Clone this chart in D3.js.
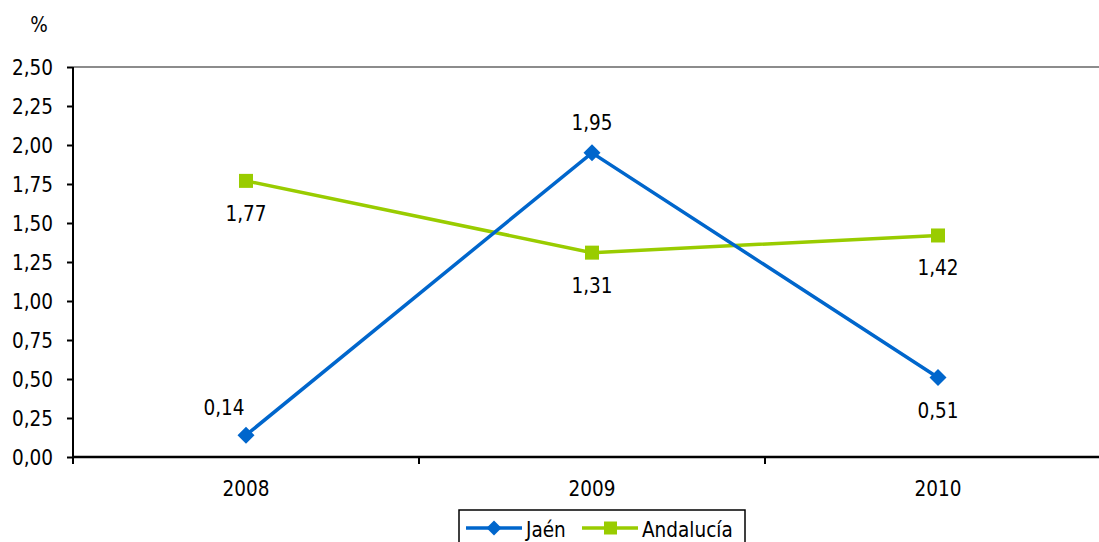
<!DOCTYPE html>
<html><head><meta charset="utf-8">
<script src="https://cdn.jsdelivr.net/npm/d3@7"></script>
<style>body{margin:0;background:#fff}svg{display:block}text{font-family:"DejaVu Sans Condensed","DejaVu Sans",sans-serif;font-stretch:condensed;font-size:20.5px;fill:#000}</style>
</head><body><svg id="c" width="1099" height="542"></svg>
<script>
const categories = ["2008","2009","2010"];
const jaen = [0.14, 1.95, 0.51];
const andalucia = [1.77, 1.31, 1.42];
const yTicks = [0,0.25,0.5,0.75,1,1.25,1.5,1.75,2,2.25,2.5];
const seriesNames = ["Jaén","Andalucía"];

const svg = d3.select("#c");
const fmt = v => d3.format(".2f")(v).replace(".", ",");
const x = d3.scaleBand().domain(categories).range([73, 1111]);
const y = d3.scaleLinear().domain([0, 2.5]).range([457, 67]);
const cx = c => x(c) + x.bandwidth()/2;

svg.append("line").attr("x1",73).attr("x2",1099).attr("y1",y(2.5)).attr("y2",y(2.5))
  .attr("stroke","#8c8c8c").attr("stroke-width",2);

const ya = svg.append("g").attr("transform","translate(73,0)")
  .call(d3.axisLeft(y).tickValues(yTicks).tickFormat(fmt).tickSize(6).tickPadding(14));
ya.attr("font-family",null).attr("font-size",null);
ya.select(".domain").attr("stroke","#000").attr("stroke-width",2).attr("d","M0,"+y(2.5)+"V"+y(0));
ya.selectAll(".tick line").attr("stroke","#000").attr("stroke-width",2);
ya.selectAll(".tick text").attr("dy","0.37em");

const xa = svg.append("g").attr("transform","translate(0,457)");
xa.append("line").attr("x1",73).attr("x2",1099).attr("stroke","#000").attr("stroke-width",2.5);
const tickPos = [x.range()[0], ...categories.slice(1).map(c => x(c))];
xa.selectAll(".xt").data(tickPos).join("line").attr("x1",d=>d).attr("x2",d=>d).attr("y1",0).attr("y2",7)
  .attr("stroke","#000").attr("stroke-width",2);
xa.selectAll(".xl").data(categories).join("text").attr("x",d=>cx(d)).attr("y",39)
  .attr("text-anchor","middle").text(d=>d);

svg.append("text").attr("x",39).attr("y",32).attr("text-anchor","middle").text("%");

const line = d3.line().x((d,i)=>cx(categories[i])).y(d=>y(d));
svg.append("path").datum(andalucia).attr("d",line).attr("fill","none").attr("stroke","#99CC00").attr("stroke-width",3.5);
svg.append("path").datum(jaen).attr("d",line).attr("fill","none").attr("stroke","#0066CC").attr("stroke-width",3.5);

svg.selectAll(".sq").data(andalucia).join("rect")
  .attr("x",(d,i)=>cx(categories[i])-7).attr("y",d=>y(d)-7).attr("width",14).attr("height",14).attr("fill","#99CC00");
svg.selectAll(".dm").data(jaen).join("path")
  .attr("d",(d,i)=>{const px=cx(categories[i]),py=y(d),r=8.5;return `M${px},${py-r}L${px+r},${py}L${px},${py+r}L${px-r},${py}Z`;})
  .attr("fill","#0066CC");

const jOff = [[-22,-20],[0,-23],[0,41]];
svg.selectAll(".jl").data(jaen).join("text")
  .attr("x",(d,i)=>cx(categories[i])+jOff[i][0]).attr("y",(d,i)=>y(d)+jOff[i][1])
  .attr("text-anchor","middle").text(fmt);
svg.selectAll(".al").data(andalucia).join("text")
  .attr("x",(d,i)=>cx(categories[i])).attr("y",d=>y(d)+40)
  .attr("text-anchor","middle").text(fmt);

const lg = svg.append("g");
lg.append("rect").attr("x",459).attr("y",510).attr("width",286).attr("height",40).attr("fill","#fff").attr("stroke","#000").attr("stroke-width",1.5);
lg.append("line").attr("x1",466).attr("x2",522).attr("y1",528).attr("y2",528).attr("stroke","#0066CC").attr("stroke-width",3.5);
lg.append("path").attr("d","M494,520.5L501.5,528L494,535.5L486.5,528Z").attr("fill","#0066CC");
lg.append("text").attr("x",526).attr("y",537).text(seriesNames[0]);
lg.append("line").attr("x1",582).attr("x2",638).attr("y1",528).attr("y2",528).attr("stroke","#99CC00").attr("stroke-width",3.5);
lg.append("rect").attr("x",604).attr("y",521.5).attr("width",13).attr("height",13).attr("fill","#99CC00");
lg.append("text").attr("x",642).attr("y",537).text(seriesNames[1]);
</script></body></html>
